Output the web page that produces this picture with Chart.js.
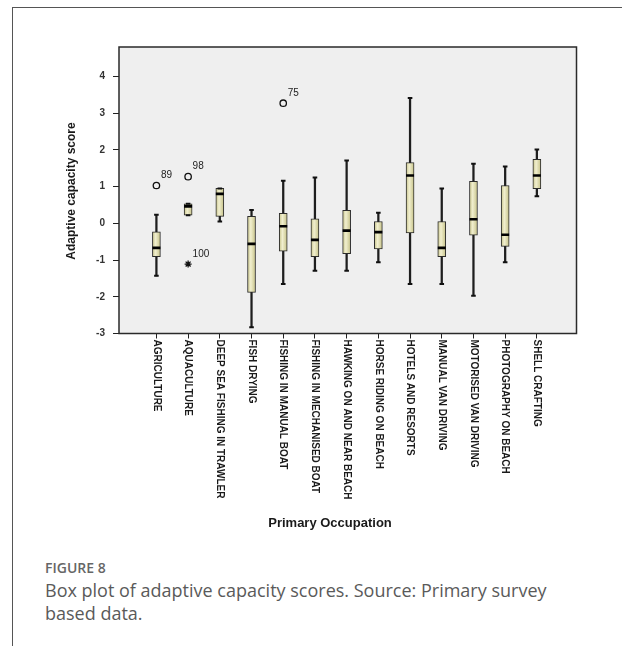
<!DOCTYPE html>
<html><head><meta charset="utf-8">
<script src="https://cdn.jsdelivr.net/npm/chart.js@4.4.0/dist/chart.umd.min.js"></script>
<style>
html,body{margin:0;padding:0;background:#fff;width:622px;height:646px;overflow:hidden}
body{position:relative}
#frame{position:absolute;left:12px;top:7px;width:610px;height:639px;border-left:1.5px solid #555;border-top:1.5px solid #555;box-sizing:border-box}
#c{position:absolute;left:0;top:0}
#cap{position:absolute;left:45px;top:557.6px;font-family:'Open Sans',sans-serif;white-space:nowrap}
#cap .fig{font-size:14px;line-height:20px;font-weight:600;color:#666;margin-bottom:1px}
#cap .txt{font-size:18px;line-height:23px;color:#5a5a5a}
</style></head>
<body>
<div id="frame"></div>
<canvas id="c" width="622" height="540"></canvas>
<div id="cap"><div class="fig">FIGURE 8</div><div class="txt">Box plot of adaptive capacity scores. Source: Primary survey<br>based data.</div></div>
<script>
const categories = ["AGRICULTURE","AQUACULTURE","DEEP SEA FISHING IN TRAWLER","FISH DRYING","FISHING IN MANUAL BOAT","FISHING IN MECHANISED BOAT","HAWKING ON AND NEAR BEACH","HORSE RIDING ON BEACH","HOTELS AND RESORTS","MANUAL VAN DRIVING","MOTORISED VAN DRIVING","PHOTOGRAPHY ON BEACH","SHELL CRAFTING"];
const whiskerLow  = [-1.43, 0.22, 0.05, -2.83, -1.65, -1.29, -1.29, -1.06, -1.65, -1.65, -1.97, -1.06, 0.74];
const q1          = [-0.91, 0.22, 0.19, -1.88, -0.76, -0.91, -0.83, -0.70, -0.26, -0.91, -0.32, -0.63, 0.94];
const medians     = [-0.67, 0.46, 0.80, -0.56, -0.08, -0.45, -0.20, -0.24, 1.30, -0.67, 0.11, -0.31, 1.30];
const q3          = [-0.23, 0.53, 0.95, 0.19, 0.27, 0.12, 0.35, 0.05, 1.65, 0.05, 1.14, 1.03, 1.74];
const whiskerHigh = [0.23, 0.53, 0.95, 0.36, 1.16, 1.25, 1.71, 0.29, 3.41, 0.95, 1.62, 1.55, 2.01];
const outlierCat = [0, 1, 4];
const outlierVal = [1.03, 1.27, 3.27];
const outlierLbl = ["89", "98", "75"];
const extremeCat = [1];
const extremeVal = [-1.11];
const extremeLbl = ["100"];
const yTicks = [-3, -2, -1, 0, 1, 2, 3, 4];
const yTitle = "Adaptive capacity score";
const xTitle = "Primary Occupation";

const FONT = "'Liberation Sans', Arial, sans-serif";
const idx = categories.map((c, i) => i);

const boxFill = (ctx) => {
  const ch = ctx.chart, xs = ch.scales && ch.scales.x;
  if (!ch.chartArea || !xs || ctx.dataIndex === undefined) return '#d8d5a2';
  const px = xs.getPixelForValue(ctx.dataIndex);
  const g = ch.ctx.createLinearGradient(px - 4, 0, px + 4, 0);
  g.addColorStop(0, '#c8c48b');
  g.addColorStop(0.4, '#f1efcf');
  g.addColorStop(1, '#c6c288');
  return g;
};

const decor = {
  id: 'decor',
  beforeDraw(chart) {
    const a = chart.chartArea, c = chart.ctx;
    c.save(); c.fillStyle = '#efefef'; c.fillRect(a.left, a.top, a.right - a.left, a.bottom - a.top); c.restore();
  },
  afterDraw(chart) {
    const a = chart.chartArea, c = chart.ctx, xs = chart.scales.x;
    c.save();
    c.strokeStyle = '#2a2a2a'; c.lineWidth = 1.5;
    c.strokeRect(a.left, a.top, a.right - a.left, a.bottom - a.top);
    c.fillStyle = '#1a1a1a';
    c.font = 'bold 10px ' + FONT;
    c.textAlign = 'left'; c.textBaseline = 'middle';
    categories.forEach((lab, i) => {
      const px = xs.getPixelForValue(i);
      c.save(); c.translate(px, a.bottom + 6); c.rotate(Math.PI / 2);
      c.fillText(lab, 0, 0); c.restore();
    });
    c.font = 'bold 13px ' + FONT; c.textAlign = 'center';
    c.fillText(xTitle, 330, 523);
    c.save(); c.translate(72, 191); c.rotate(-Math.PI / 2);
    c.font = 'bold 12px ' + FONT; c.fillText(yTitle, 0, 0); c.restore();
    c.font = '10px ' + FONT; c.textAlign = 'left'; c.fillStyle = '#222';
    chart.getDatasetMeta(5).data.forEach((p, j) => c.fillText(outlierLbl[j], p.x + 4.5, p.y - 10));
    chart.getDatasetMeta(6).data.forEach((p, j) => c.fillText(extremeLbl[j], p.x + 4.5, p.y - 10));
    c.restore();
  }
};

new Chart(document.getElementById('c'), {
  type: 'bar',
  data: {
    datasets: [
      { type: 'bar', label: 'whisker', data: idx.map(i => ({ x: i, y: [whiskerLow[i], whiskerHigh[i]] })),
        backgroundColor: '#1e1e1e', borderWidth: 0, barThickness: 1.6, grouped: false, order: 5 },
      { type: 'bar', label: 'box', data: idx.map(i => ({ x: i, y: [q1[i], q3[i]] })),
        backgroundColor: boxFill, borderColor: '#2b2b2b', borderWidth: 1, borderSkipped: false,
        barThickness: 8, grouped: false, order: 4 },
      { type: 'scatter', label: 'median', data: idx.map(i => ({ x: i, y: medians[i] })),
        pointStyle: 'line', pointRadius: 4, borderWidth: 2.6, borderColor: '#000', order: 1 },
      { type: 'scatter', label: 'capHigh', data: idx.map(i => ({ x: i, y: whiskerHigh[i] })),
        pointStyle: 'line', pointRadius: 2.3, borderWidth: 2, borderColor: '#111', order: 2 },
      { type: 'scatter', label: 'capLow', data: idx.map(i => ({ x: i, y: whiskerLow[i] })),
        pointStyle: 'line', pointRadius: 2.3, borderWidth: 2, borderColor: '#111', order: 2 },
      { type: 'scatter', label: 'outliers', data: outlierCat.map((c, j) => ({ x: c, y: outlierVal[j] })),
        pointStyle: 'circle', pointRadius: 3.2, borderWidth: 1.3, borderColor: '#111', backgroundColor: 'rgba(0,0,0,0)', order: 1 },
      { type: 'scatter', label: 'extremes', data: extremeCat.map((c, j) => ({ x: c, y: extremeVal[j] })),
        pointStyle: 'star', pointRadius: 3.5, borderWidth: 1.3, borderColor: '#111', order: 1 }
    ]
  },
  options: {
    responsive: false, animation: false,
    layout: { padding: { top: 47, right: 45.5, bottom: 0, left: 0 } },
    plugins: { legend: { display: false }, tooltip: { enabled: false } },
    scales: {
      x: {
        type: 'linear', min: -1.18, max: 13.25, offset: false,
        afterBuildTicks: (s) => { s.ticks = idx.map(i => ({ value: i })); },
        afterFit: (s) => { s.height = 206.5; },
        ticks: { display: false },
        grid: { display: true, offset: false, drawOnChartArea: false, drawTicks: true, tickLength: 5, color: '#222', lineWidth: 1 },
        border: { display: false }
      },
      y: {
        type: 'linear', min: -3, max: 4.8,
        afterBuildTicks: (s) => { s.ticks = yTicks.map(v => ({ value: v })); },
        afterFit: (s) => { s.width = 119; },
        ticks: { color: '#333', font: { family: FONT, size: 10, weight: 'bold' }, padding: 8 },
        grid: { display: true, drawOnChartArea: false, drawTicks: true, tickLength: 6, color: '#222', lineWidth: 1 },
        border: { display: false }
      }
    }
  },
  plugins: [decor]
});
</script>
</body></html>
